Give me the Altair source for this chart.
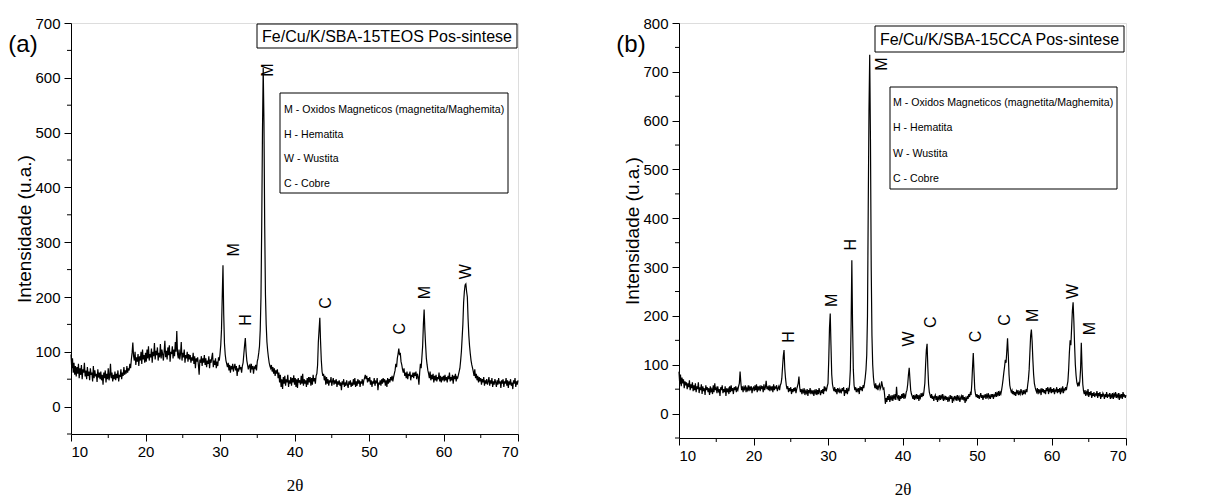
import altair as alt
import pandas as pd

# 2-theta sampling grid (degrees), 0.1 deg step from 10 to 70
two_theta = [round(10 + 0.1 * i, 1) for i in range(601)]

# (a) Fe/Cu/K/SBA-15TEOS - intensities (20 points = 2 deg per row)
intens_a = [
    95, 70, 88, 62, 80, 58, 74, 55, 72, 60, 78, 52, 70, 58, 76, 50, 68, 62, 80, 55,
    66, 50, 72, 56, 64, 48, 70, 58, 62, 46, 74, 52, 66, 55, 60, 45, 68, 53, 62, 50,
    64, 48, 58, 40, 62, 52, 66, 44, 60, 50, 70, 48, 56, 78, 52, 62, 46, 58, 50, 64,
    48, 60, 52, 66, 46, 58, 54, 68, 50, 62, 56, 72, 58, 66, 60, 74, 62, 70, 66, 78,
    70, 86, 98, 117, 92, 84, 100, 76, 90, 82, 96, 74, 92, 84, 100, 78, 104, 86, 94, 80,
    98, 82, 104, 88, 110, 84, 96, 90, 106, 80, 100, 92, 116, 86, 102, 94, 108, 84, 98, 90,
    114, 88, 104, 96, 84, 100, 120, 90, 102, 86, 108, 94, 112, 82, 100, 96, 110, 88, 104, 92,
    118, 100, 138, 96, 88, 104, 86, 96, 118, 84, 98, 90, 104, 80, 94, 88, 100, 82, 96, 86,
    94, 80, 90, 84, 98, 78, 92, 70, 88, 82, 90, 76, 58, 86, 80, 92, 74, 88, 80, 94,
    76, 88, 72, 84, 78, 92, 70, 86, 80, 90, 98, 72, 84, 76, 88, 70, 82, 74, 90, 84,
    96, 112, 140, 200, 258, 168, 115, 95, 84, 78, 72, 80, 66, 76, 62, 74, 68, 78, 64, 72,
    78, 66, 74, 56, 70, 64, 76, 68, 72, 62, 74, 80, 96, 112, 125, 100, 84, 76, 68, 74,
    76, 62, 78, 68, 74, 60, 72, 70, 76, 66, 82, 88, 98, 110, 140, 200, 330, 500, 618, 520,
    330, 205, 150, 118, 102, 90, 80, 74, 70, 76, 64, 72, 60, 70, 56, 66, 60, 68, 52, 62,
    44, 58, 36, 50, 32, 54, 42, 56, 38, 50, 44, 58, 36, 48, 42, 54, 38, 52, 44, 57,
    40, 52, 36, 50, 34, 52, 44, 48, 40, 56, 42, 60, 38, 50, 42, 48, 36, 52, 40, 54,
    44, 54, 38, 52, 40, 58, 46, 52, 42, 56, 60, 76, 118, 140, 162, 118, 84, 64, 56, 60,
    48, 56, 40, 54, 42, 50, 38, 48, 44, 54, 38, 46, 52, 40, 48, 42, 50, 36, 46, 40,
    48, 38, 44, 30, 46, 40, 50, 36, 44, 38, 48, 40, 34, 46, 40, 48, 36, 44, 38, 50,
    40, 52, 36, 46, 38, 50, 42, 48, 36, 46, 42, 50, 38, 48, 52, 58, 50, 56, 44, 52,
    46, 54, 40, 48, 36, 46, 42, 52, 38, 46, 44, 52, 30, 44, 40, 48, 38, 50, 42, 52,
    44, 50, 38, 48, 36, 52, 42, 50, 44, 54, 48, 56, 46, 54, 60, 66, 78, 72, 88, 96,
    106, 94, 98, 82, 76, 68, 62, 70, 56, 62, 52, 64, 50, 60, 56, 64, 48, 58, 54, 62,
    52, 62, 56, 64, 50, 60, 54, 40, 62, 78, 70, 90, 110, 150, 177, 140, 112, 88, 76, 66,
    60, 52, 64, 48, 58, 50, 60, 44, 56, 48, 58, 46, 54, 50, 62, 46, 56, 44, 54, 50,
    56, 46, 58, 48, 54, 44, 56, 50, 62, 46, 54, 48, 58, 42, 56, 50, 60, 46, 54, 52,
    58, 64, 70, 84, 100, 125, 150, 190, 210, 222, 224, 210, 200, 160, 130, 110, 96, 84, 76, 70,
    64, 56, 68, 52, 60, 48, 56, 44, 54, 46, 52, 40, 50, 44, 54, 38, 48, 42, 50, 40,
    46, 54, 38, 48, 42, 52, 36, 46, 40, 50, 44, 36, 48, 40, 52, 42, 46, 34, 48, 42,
    50, 36, 46, 42, 52, 38, 48, 34, 46, 40, 50, 38, 44, 32, 48, 42, 52, 36, 46, 40,
    48,
]

# (b) Fe/Cu/K/SBA-15CCA - intensities (20 points = 2 deg per row)
intens_b = [
    86, 60, 80, 56, 74, 62, 70, 52, 66, 58, 64, 50, 62, 54, 68, 48, 60, 52, 64, 46,
    58, 48, 62, 44, 56, 50, 64, 42, 54, 48, 60, 40, 56, 46, 52, 38, 58, 48, 54, 44,
    52, 38, 56, 46, 50, 40, 58, 44, 62, 48, 52, 42, 56, 46, 50, 36, 54, 48, 58, 42,
    50, 44, 56, 36, 52, 46, 50, 40, 56, 44, 58, 46, 52, 40, 54, 48, 56, 44, 52, 48,
    56, 62, 86, 64, 48, 56, 44, 54, 50, 58, 44, 52, 48, 58, 46, 54, 50, 56, 42, 52,
    54, 46, 58, 48, 60, 44, 56, 50, 54, 46, 58, 50, 56, 44, 60, 48, 54, 67, 50, 56,
    48, 58, 46, 54, 50, 56, 44, 60, 48, 54, 52, 58, 46, 52, 56, 48, 58, 62, 72, 96,
    118, 130, 92, 72, 58, 50, 56, 44, 52, 46, 54, 40, 50, 44, 52, 46, 54, 42, 50, 56,
    62, 76, 54, 44, 50, 40, 48, 44, 52, 38, 46, 42, 50, 36, 48, 44, 52, 40, 46, 42,
    48, 36, 46, 42, 50, 38, 48, 40, 52, 44, 38, 48, 42, 50, 40, 56, 46, 52, 48, 56,
    62, 110, 175, 205, 140, 80, 60, 52, 46, 54, 44, 50, 40, 52, 46, 50, 42, 48, 44, 52,
    46, 54, 36, 48, 42, 52, 40, 50, 46, 60, 90, 180, 314, 180, 90, 58, 48, 54, 44, 50,
    46, 52, 40, 56, 48, 54, 46, 58, 52, 62, 74, 90, 120, 200, 420, 620, 735, 560, 300, 160,
    100, 74, 60, 52, 62, 50, 58, 48, 56, 60, 50, 54, 66, 58, 50, 52, 38, 20, 32, 24,
    36, 28, 40, 24, 34, 30, 38, 26, 36, 32, 40, 28, 55, 34, 30, 38, 26, 36, 30, 40,
    32, 42, 30, 38, 34, 44, 48, 60, 80, 94, 70, 48, 40, 36, 30, 38, 28, 36, 32, 40,
    30, 38, 26, 36, 32, 42, 34, 40, 36, 48, 62, 100, 130, 143, 95, 60, 44, 38, 32, 40,
    30, 36, 26, 34, 38, 28, 36, 24, 34, 30, 38, 28, 36, 32, 40, 26, 34, 30, 36, 28,
    34, 24, 32, 28, 38, 30, 36, 22, 32, 28, 36, 30, 34, 26, 38, 30, 34, 24, 32, 36,
    28, 38, 30, 34, 22, 32, 28, 36, 30, 40, 34, 42, 38, 60, 95, 124, 85, 50, 40, 34,
    40, 32, 38, 30, 36, 42, 32, 38, 28, 36, 34, 40, 30, 38, 34, 42, 32, 36, 30, 40,
    34, 40, 30, 38, 36, 44, 34, 42, 38, 46, 36, 44, 40, 48, 58, 70, 84, 96, 110, 104,
    128, 154, 120, 80, 58, 50, 44, 48, 40, 46, 38, 44, 36, 46, 42, 48, 38, 44, 40, 50,
    44, 38, 48, 40, 46, 42, 50, 44, 58, 70, 90, 125, 160, 172, 148, 110, 80, 62, 54, 48,
    44, 52, 40, 50, 44, 48, 38, 52, 44, 50, 42, 48, 40, 52, 46, 54, 40, 50, 46, 54,
    42, 50, 44, 52, 40, 48, 46, 54, 42, 50, 44, 52, 40, 50, 46, 56, 42, 50, 48, 54,
    48, 58, 66, 90, 125, 150, 140, 175, 210, 228, 190, 140, 100, 78, 64, 58, 62, 56, 66, 90,
    145, 95, 60, 46, 40, 48, 36, 44, 40, 50, 34, 44, 38, 46, 32, 42, 36, 44, 34, 40,
    38, 46, 32, 42, 36, 44, 30, 40, 34, 42, 38, 30, 40, 34, 44, 32, 38, 36, 42, 30,
    38, 34, 42, 30, 40, 36, 44, 32, 38, 34, 42, 28, 38, 34, 40, 30, 44, 36, 38, 32,
    38,
]

# Peak annotations (phase letter, 2-theta, intensity at label centre)
peaks_a_text = ["M", "H", "M", "C", "C", "M", "W"]
peaks_a_x = [31.9, 33.5, 36.4, 44.2, 54.2, 57.5, 63.0]
peaks_a_y = [286, 158, 614, 189, 142, 208, 246]

peaks_b_text = ["H", "M", "H", "M", "W", "C", "C", "C", "M", "W", "M"]
peaks_b_x = [24.7, 30.6, 33.1, 37.3, 40.9, 43.8, 49.8, 53.8, 57.5, 62.9, 65.2]
peaks_b_y = [157, 232, 346, 716, 153, 187, 158, 192, 201, 250, 174]

legend_lines = [
    "M - Oxidos Magneticos (magnetita/Maghemita)",
    "H - Hematita",
    "W - Wustita",
    "C - Cobre",
]

# axis tick positions
x_major = [10, 20, 30, 40, 50, 60, 70]
x_minor = [15, 25, 35, 45, 55, 65]

FONT = "Liberation Sans"
one_row = alt.Data(values=[{"k": 0}])


def panel(vals, ymax, h, p_text, p_x, p_y, sample, tag, tbox, lbox, ly0, ldy, lx):
    y_major = list(range(0, ymax + 1, 100))
    y_minor = list(range(-50, ymax + 1, 100))
    xs = alt.Scale(domain=[10, 70], nice=False, zero=False)
    ys = alt.Scale(domain=[-50, ymax], nice=False, zero=False)
    x_axis = alt.Axis(
        title="2θ",
        values=x_major,
        labelOverlap=False,
        tickSize=7,
        grid=False,
        domainColor="black",
        tickColor="black",
        labelColor="black",
        titleColor="black",
        labelFont=FONT,
        labelFontSize=15,
        labelPadding=3,
        titleFont="Liberation Serif",
        titleFontSize=17,
        titleFontWeight="normal",
        titlePadding=18,
    )
    y_axis = alt.Axis(
        title="Intensidade (u.a.)",
        values=y_major,
        labelOverlap=False,
        tickSize=7,
        grid=False,
        domainColor="black",
        tickColor="black",
        labelColor="black",
        titleColor="black",
        labelFont=FONT,
        labelFontSize=15,
        labelPadding=4,
        titleFont=FONT,
        titleFontSize=19,
        titleFontWeight="normal",
        titlePadding=0,
    )
    df = pd.DataFrame({"x": two_theta, "y": vals})
    line = alt.Chart(df).mark_line(color="black", strokeWidth=1.2).encode(
        x=alt.X("x:Q", scale=xs, axis=x_axis), y=alt.Y("y:Q", scale=ys, axis=y_axis)
    )

    pk = pd.DataFrame({"t": p_text, "x": p_x, "y": p_y})
    labels = alt.Chart(pk).mark_text(
        angle=270, font=FONT, fontSize=16, color="black", align="center", baseline="middle"
    ).encode(
        x=alt.X("x:Q", scale=xs, axis=x_axis), y=alt.Y("y:Q", scale=ys, axis=y_axis), text="t:N"
    )

    # minor ticks drawn through the same scales
    xm = alt.Chart(pd.DataFrame({"x": x_minor})).mark_rule(color="black", strokeWidth=1).encode(
        x=alt.X("x:Q", scale=xs, axis=x_axis), y=alt.value(h), y2=alt.value(h + 4)
    )
    ym = alt.Chart(pd.DataFrame({"y": y_minor})).mark_rule(color="black", strokeWidth=1).encode(
        y=alt.Y("y:Q", scale=ys, axis=y_axis), x=alt.value(0), x2=alt.value(-4)
    )

    tb_rect = alt.Chart(one_row).mark_rect(fill="white", stroke="black", strokeWidth=1).encode(
        x=alt.value(tbox[0]), x2=alt.value(tbox[1]), y=alt.value(tbox[2]), y2=alt.value(tbox[3])
    )
    tb_text = alt.Chart(one_row).mark_text(
        font=FONT, fontSize=16, color="black", align="center", baseline="middle"
    ).encode(
        x=alt.value((tbox[0] + tbox[1]) / 2),
        y=alt.value((tbox[2] + tbox[3]) / 2 + 1),
        text=alt.value(sample),
    )
    lg_rect = alt.Chart(one_row).mark_rect(fill="white", stroke="black", strokeWidth=1).encode(
        x=alt.value(lbox[0]), x2=alt.value(lbox[1]), y=alt.value(lbox[2]), y2=alt.value(lbox[3])
    )
    layers = [line, labels, xm, ym, tb_rect, tb_text, lg_rect]
    for i, t in enumerate(legend_lines):
        layers.append(
            alt.Chart(one_row).mark_text(
                font=FONT, fontSize=10.6, color="black", align="left", baseline="middle"
            ).encode(x=alt.value(lx), y=alt.value(ly0 + i * ldy), text=alt.value(t))
        )
    layers.append(
        alt.Chart(one_row).mark_text(
            font=FONT, fontSize=24, color="black", align="center", baseline="middle"
        ).encode(x=alt.value(-48), y=alt.value(22), text=alt.value(tag))
    )
    return alt.layer(*layers).properties(width=447, height=h)


pa = panel(intens_a, 700, 411, peaks_a_text, peaks_a_x, peaks_a_y,
           "Fe/Cu/K/SBA-15TEOS Pos-sintese", "(a)",
           (186, 446, 1, 25), (209, 437, 70, 170), 87, 24.7, 213)
pb = panel(intens_b, 800, 415, peaks_b_text, peaks_b_x, peaks_b_y,
           "Fe/Cu/K/SBA-15CCA Pos-sintese", "(b)",
           (196, 445, 3, 29), (211, 438, 64, 166), 80, 25.3, 214)

chart = alt.hconcat(pa, pb, spacing=161, bounds="flush").properties(
    padding={"left": 7, "top": 15, "right": 0, "bottom": 0}
).configure_view(stroke="black", strokeWidth=1).configure(background="white")

chart.save("out.html", embed_options={"renderer": "svg", "actions": False})
